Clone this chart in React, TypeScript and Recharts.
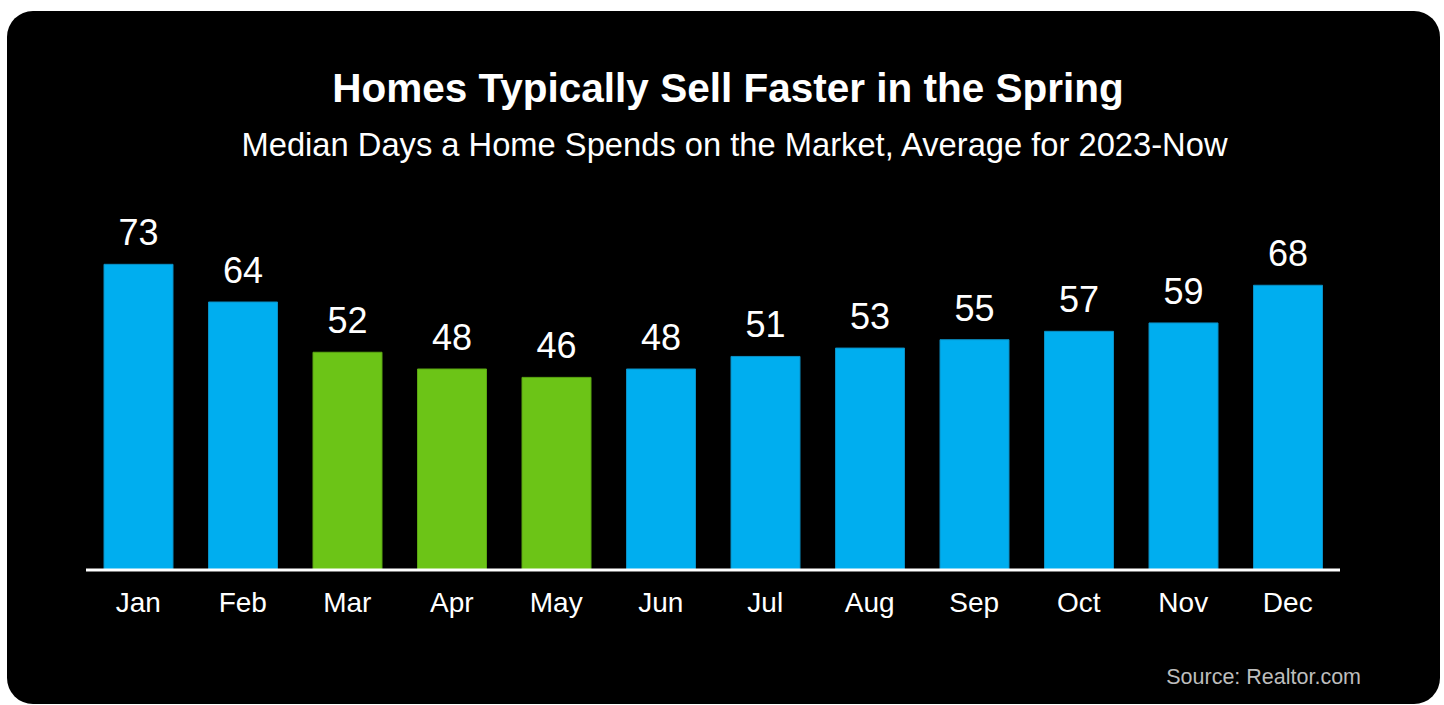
import React from "react";
import { BarChart, Bar, XAxis, YAxis, Cell, LabelList } from "recharts";

const months = ["Jan", "Feb", "Mar", "Apr", "May", "Jun", "Jul", "Aug", "Sep", "Oct", "Nov", "Dec"];
const medianDays = [73, 64, 52, 48, 46, 48, 51, 53, 55, 57, 59, 68];
const springMonths = ["Mar", "Apr", "May"];

const data = months.map((m, i) => ({ month: m, days: medianDays[i] }));

const FONT = "'Liberation Sans', Arial, Helvetica, sans-serif";

export default function App() {
  return (
    <div style={{ position: "absolute", left: 0, top: 0, width: 1444, height: 705, background: "#fff", overflow: "hidden", fontFamily: FONT }}>
      <div style={{ position: "absolute", left: 7, top: 11, width: 1433, height: 693, background: "#000", borderRadius: 26 }} />
      <div style={{ position: "absolute", left: 0, width: 1456, top: 64, textAlign: "center", color: "#fff", fontWeight: 700, fontSize: 40.5, lineHeight: "48px" }}>
        Homes Typically Sell Faster in the Spring
      </div>
      <div style={{ position: "absolute", left: 0, width: 1469, top: 127, textAlign: "center", color: "#fff", fontSize: 32.7, lineHeight: "36px" }}>
        Median Days a Home Spends on the Market, Average for 2023-Now
      </div>
      <div style={{ position: "absolute", right: 83, top: 664, color: "#bdbdbd", fontSize: 21.5, lineHeight: "26px" }}>
        Source: Realtor.com
      </div>
      <div style={{ position: "absolute", left: 0, top: 0 }}>
        <BarChart width={1444} height={705} data={data} margin={{ top: 235, right: 104, bottom: 95, left: 86 }} barCategoryGap={0}>
          <YAxis hide domain={[0, 80]} />
          <XAxis
            dataKey="month"
            height={40}
            axisLine={{ stroke: "#fff", strokeWidth: 3 }}
            tickLine={false}
            tickMargin={16}
            tick={{ fill: "#fff", fontSize: 28, fontFamily: FONT }}
            interval={0}
          />
          <Bar dataKey="days" barSize={69} isAnimationActive={false}>
            {data.map((d) => {
              const spring = springMonths.includes(d.month);
              return (
                <Cell
                  key={d.month}
                  fill={spring ? "#6CC417" : "#00AEEF"}
                  stroke={spring ? "#5aa612" : "#0a8fc4"}
                  strokeWidth={1}
                />
              );
            })}
            <LabelList dataKey="days" position="top" offset={19} fill="#fff" fontSize={36} fontFamily={FONT} />
          </Bar>
        </BarChart>
      </div>
    </div>
  );
}
